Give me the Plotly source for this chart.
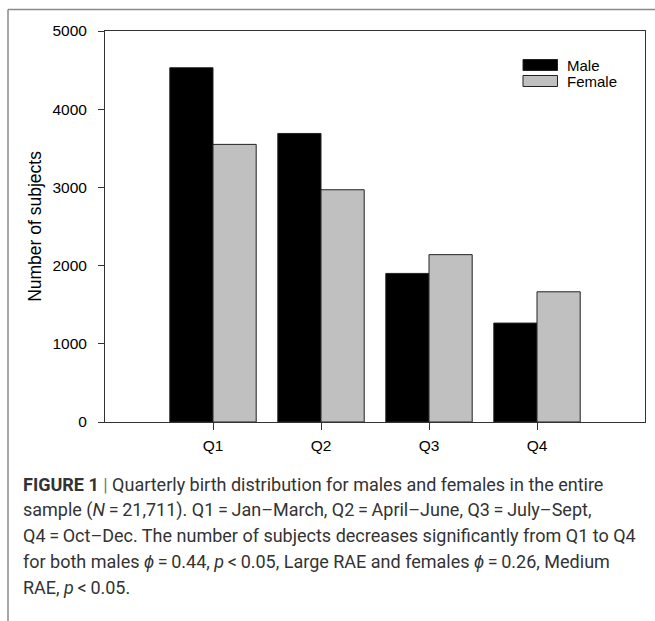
import plotly.graph_objects as go

quarters = ["Q1", "Q2", "Q3", "Q4"]
male = [4530, 3690, 1900, 1265]
female = [3550, 2970, 2140, 1665]
y_ticks = [0, 1000, 2000, 3000, 4000, 5000]

caption_lines = [
    "<b>FIGURE 1</b> <span style='color:#777'>|</span> Quarterly birth distribution for males and females in the entire",
    "sample (<i>N</i>\u2009=\u200921,711). Q1\u2009=\u2009Jan\u2013March, Q2\u2009=\u2009April\u2013June, Q3\u2009=\u2009July\u2013Sept,",
    "Q4\u2009=\u2009Oct\u2013Dec. The number of subjects decreases significantly from Q1 to Q4",
    "for both males <i>\u03d5</i>\u2009=\u20090.44, <i>p</i>\u2009<\u20090.05, Large RAE and females <i>\u03d5</i>\u2009=\u20090.26, Medium",
    "RAE, <i>p</i>\u2009<\u20090.05.",
]

W, H = 655, 621
L, R, T, B = 105, 645, 31, 422


def px(x):
    return (x - L) / (R - L)


def py(y):
    return (B - y) / (B - T)


fig = go.Figure()
fig.add_trace(go.Bar(x=quarters, y=male, name="Male",
                     marker=dict(color="#000000", line=dict(color="#222222", width=1))))
fig.add_trace(go.Bar(x=quarters, y=female, name="Female",
                     marker=dict(color="#c0c0c0", line=dict(color="#222222", width=1))))

shapes = [
    dict(type="line", xref="paper", yref="paper", x0=px(8), x1=px(655), y0=py(9.5), y1=py(9.5),
         line=dict(color="#8a8a8a", width=1.5)),
    dict(type="line", xref="paper", yref="paper", x0=px(8), x1=px(8), y0=py(9.5), y1=py(621),
         line=dict(color="#8a8a8a", width=1.5)),
    dict(type="rect", xref="paper", yref="paper", x0=px(523), x1=px(557.5), y0=py(59.5), y1=py(70.5),
         fillcolor="#000000", line=dict(color="#222222", width=1)),
    dict(type="rect", xref="paper", yref="paper", x0=px(523), x1=px(557.5), y0=py(75.5), y1=py(86.5),
         fillcolor="#c0c0c0", line=dict(color="#222222", width=1)),
]

annotations = [
    dict(text="Male", xref="paper", yref="paper", x=px(565), y=py(65), xanchor="left", yanchor="middle",
         showarrow=False, font=dict(family="Liberation Sans, Arial", size=15, color="#000")),
    dict(text="Female", xref="paper", yref="paper", x=px(565), y=py(81), xanchor="left", yanchor="middle",
         showarrow=False, font=dict(family="Liberation Sans, Arial", size=15, color="#000")),
]

line_y = [484, 510, 535.5, 561, 587]
for txt, yy in zip(caption_lines, line_y):
    annotations.append(dict(text=txt, xref="paper", yref="paper", x=px(21), y=py(yy),
                            xanchor="left", yanchor="middle", showarrow=False, align="left",
                            font=dict(family="Roboto, Arial", size=18, color="#333333")))

fig.update_layout(
    width=W, height=H,
    margin=dict(l=L, r=W - R, t=T, b=H - B, pad=0),
    paper_bgcolor="white", plot_bgcolor="white",
    barmode="group", bargap=0.2, bargroupgap=0,
    showlegend=False,
    font=dict(family="Liberation Sans, Arial", size=15.5, color="#000"),
    shapes=shapes, annotations=annotations,
    xaxis=dict(range=[-1, 4], showline=True, linecolor="#333333", linewidth=1, mirror=True,
               ticks="outside", ticklen=7, tickcolor="#333333", tickwidth=1,
               showgrid=False, zeroline=False, ticklabelstandoff=2,
               tickfont=dict(family="Liberation Sans, Arial", size=15.5, color="#000")),
    yaxis=dict(range=[0, 5000], tickvals=y_ticks, showline=True, linecolor="#333333", linewidth=1,
               mirror=True, ticks="outside", ticklen=6, tickcolor="#333333", tickwidth=1,
               showgrid=False, zeroline=False, ticklabelstandoff=8,
               tickfont=dict(family="Liberation Sans, Arial", size=15.5, color="#000"),
               title=dict(text="Number of subjects",
                          font=dict(family="Liberation Sans, Arial", size=17.5, color="#000"),
                          standoff=6)),
)

fig.write_html(
    "out.html",
    config={"displayModeBar": False},
    post_script="document.body.style.margin='0';document.body.style.padding='0';"
                "document.documentElement.style.margin='0';",
)
